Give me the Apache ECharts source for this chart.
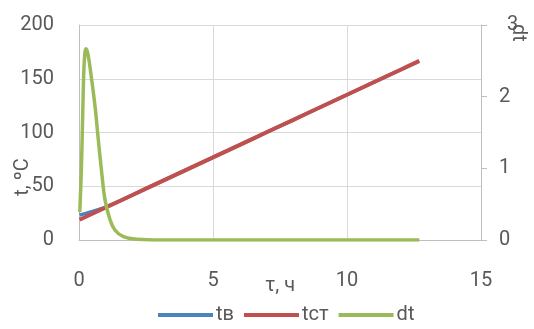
<!DOCTYPE html>
<html><head><meta charset="utf-8">
<script src="https://cdn.jsdelivr.net/npm/echarts@6/dist/echarts.min.js"></script>
<style>html,body{margin:0;padding:0;background:#fff}#c{width:534px;height:329px}</style>
</head><body><div id="c"></div>
<script>
// Data
const seriesNames = ['tв', 'tст', 'dt'];
const tauB = [0.02, 0.25, 0.5, 0.75, 1.0, 2, 3, 4, 5, 6, 7, 8, 9, 10, 11, 12, 12.65];
const tB   = [23.2, 24.8, 26.6, 28.5, 30.4, 42.0, 53.6, 65.2, 76.9, 88.5, 100.2, 111.8, 123.5, 135.1, 146.8, 158.4, 165.8];
const tauR = [0.02, 1, 2, 3, 4, 5, 6, 7, 8, 9, 10, 11, 12, 12.7];
const tR   = [18.8, 30.3, 41.9, 53.6, 65.2, 76.9, 88.5, 100.2, 111.8, 123.5, 135.1, 146.8, 158.4, 166.6];
const tauD = [0.03, 0.08, 0.12, 0.16, 0.2, 0.26, 0.33, 0.44, 0.6, 0.72, 0.85, 0.97, 1.16, 1.34, 1.64, 2.16, 3, 4, 6, 8, 10, 12.7];
const dT   = [0.39, 0.9, 1.45, 2.1, 2.5, 2.67, 2.6, 2.33, 1.86, 1.4, 0.93, 0.56, 0.28, 0.14, 0.05, 0.01, 0, 0, 0, 0, 0, 0];
const xTicks = [0, 5, 10, 15];
const yLeftTicks = [0, 50, 100, 150, 200];
const yRightTicks = [0, 1, 2, 3];

const zip = (a, b) => a.map((v, i) => [v, b[i]]);
const FONT = 'Roboto';
const GRAY = '#595959';

const chart = echarts.init(document.getElementById('c'), null, {renderer: 'canvas'});
chart.setOption({
  animation: false,
  backgroundColor: '#fff',
  grid: {left: 79, right: 53, top: 25, bottom: 89},
  xAxis: {
    type: 'value', min: xTicks[0], max: xTicks[xTicks.length - 1], interval: 5,
    axisLine: {show: true, lineStyle: {color: '#bfbfbf', width: 1}},
    axisTick: {show: false},
    axisLabel: {color: GRAY, fontFamily: FONT, fontSize: 20, margin: 31},
    splitLine: {show: true, lineStyle: {color: '#d9d9d9', width: 1}}
  },
  yAxis: [{
    type: 'value', min: yLeftTicks[0], max: yLeftTicks[yLeftTicks.length - 1], interval: 50,
    axisLine: {show: true, lineStyle: {color: '#bfbfbf', width: 1}},
    axisTick: {show: false},
    axisLabel: {color: GRAY, fontFamily: FONT, fontSize: 20, margin: 25},
    splitLine: {show: true, lineStyle: {color: '#d9d9d9', width: 1}}
  }, {
    type: 'value', position: 'right', min: yRightTicks[0], max: yRightTicks[yRightTicks.length - 1], interval: 1,
    axisLine: {show: true, lineStyle: {color: '#bfbfbf', width: 1}},
    axisTick: {show: true, length: 6, lineStyle: {color: '#bfbfbf'}},
    axisLabel: {color: GRAY, fontFamily: FONT, fontSize: 20, margin: 18,
      formatter: v => v === yRightTicks[yRightTicks.length - 1] ? '{s|' + v + '}' : String(v),
      rich: {s: {color: GRAY, fontFamily: FONT, fontSize: 20, padding: [0, 0, 0, 8]}}},
    splitLine: {show: false}
  }],
  legend: {
    left: 158, top: 305, padding: 0, icon: 'rect', itemWidth: 55, itemHeight: 4, itemGap: 10,
    textStyle: {color: GRAY, fontFamily: FONT, fontSize: 20, padding: [0, 0, 0, -2]},
    data: seriesNames
  },
  series: [
    {name: seriesNames[0], type: 'line', data: zip(tauB, tB), smooth: 0.3, showSymbol: false, yAxisIndex: 0,
     lineStyle: {color: '#4F81BD', width: 3.5}, itemStyle: {color: '#4F81BD'}, z: 2},
    {name: seriesNames[1], type: 'line', data: zip(tauR, tR), smooth: 0.3, showSymbol: false, yAxisIndex: 0,
     lineStyle: {color: '#C0504D', width: 4}, itemStyle: {color: '#C0504D'}, z: 3},
    {name: seriesNames[2], type: 'line', data: zip(tauD, dT), smooth: 0.4, showSymbol: false, yAxisIndex: 1,
     lineStyle: {color: '#9BBB59', width: 3.5}, itemStyle: {color: '#9BBB59'}, z: 4}
  ],
  graphic: [
    {type: 'text', x: 23, y: 177, rotation: Math.PI / 2, z: 10,
     style: {text: 't, ºC', font: '20px ' + FONT, fill: GRAY, align: 'center', verticalAlign: 'middle'}},
    {type: 'text', x: 518, y: 33, rotation: -Math.PI / 2, z: 10,
     style: {text: 'dt', font: '20px ' + FONT, fill: GRAY, align: 'center', verticalAlign: 'middle'}},
    {type: 'text', x: 280, y: 286, z: 10,
     style: {text: 'τ, ч', font: '20px ' + FONT, fill: GRAY, align: 'center', verticalAlign: 'middle'}}
  ]
});
</script></body></html>
